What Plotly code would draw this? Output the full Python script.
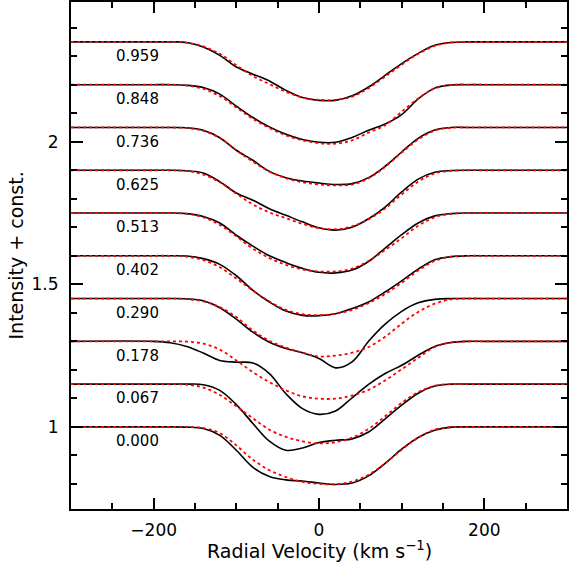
import plotly.graph_objects as go

# Radial velocity grid (km/s)
velocity = [-300, -200, -180, -160, -140, -120, -100, -80, -60, -40, -20, 0,
            20, 40, 60, 80, 100, 120, 140, 160, 180, 200, 300]

phases = ["0.000", "0.067", "0.178", "0.290", "0.402", "0.513", "0.625", "0.736", "0.848", "0.959"]
offset_step = 0.15

# Observed (black) normalized profiles, grid -180..180 step 20 (continuum 1 outside)
obs_0000 = [1.0, 0.999, 0.994, 0.970, 0.918, 0.858, 0.826, 0.814, 0.810, 0.803, 0.798, 0.803, 0.828, 0.872, 0.922, 0.963, 0.988, 0.999, 1.0]
obs_0067 = [1.0, 1.0, 0.998, 0.978, 0.928, 0.862, 0.800, 0.768, 0.776, 0.795, 0.803, 0.808, 0.832, 0.878, 0.926, 0.968, 0.993, 1.0, 1.0]
obs_0178 = [0.995, 0.982, 0.959, 0.933, 0.927, 0.924, 0.887, 0.816, 0.764, 0.744, 0.756, 0.802, 0.849, 0.887, 0.916, 0.951, 0.982, 0.996, 1.0]
obs_0290 = [1.0, 0.999, 0.992, 0.968, 0.928, 0.882, 0.847, 0.825, 0.810, 0.790, 0.757, 0.778, 0.850, 0.910, 0.955, 0.985, 0.997, 1.0, 1.0]
obs_0402 = [1.0, 0.999, 0.990, 0.970, 0.930, 0.879, 0.838, 0.806, 0.791, 0.790, 0.797, 0.815, 0.838, 0.873, 0.912, 0.953, 0.986, 0.997, 1.0]
obs_0513 = [1.0, 0.998, 0.988, 0.965, 0.922, 0.884, 0.850, 0.826, 0.806, 0.792, 0.790, 0.800, 0.830, 0.877, 0.924, 0.965, 0.990, 0.998, 1.0]
obs_0625 = [1.0, 0.998, 0.990, 0.960, 0.920, 0.895, 0.865, 0.842, 0.819, 0.798, 0.790, 0.800, 0.830, 0.871, 0.924, 0.969, 0.993, 0.999, 1.0]
obs_0736 = [1.0, 0.999, 0.990, 0.964, 0.920, 0.885, 0.846, 0.824, 0.812, 0.805, 0.800, 0.803, 0.824, 0.864, 0.914, 0.962, 0.991, 1.0, 1.0]
obs_0848 = [1.0, 0.998, 0.990, 0.967, 0.925, 0.885, 0.852, 0.826, 0.808, 0.798, 0.798, 0.815, 0.840, 0.862, 0.895, 0.950, 0.988, 0.999, 1.0]
obs_0959 = [1.0, 0.998, 0.982, 0.953, 0.912, 0.887, 0.863, 0.830, 0.805, 0.795, 0.795, 0.811, 0.842, 0.883, 0.924, 0.960, 0.988, 0.998, 1.0]

# Model (red dotted) profiles, same grid
mod_0000 = [1.0, 1.0, 0.996, 0.978, 0.935, 0.885, 0.848, 0.824, 0.807, 0.800, 0.799, 0.808, 0.832, 0.872, 0.920, 0.962, 0.990, 0.999, 1.0]
mod_0067 = [1.0, 0.998, 0.988, 0.962, 0.922, 0.880, 0.840, 0.815, 0.799, 0.792, 0.796, 0.812, 0.843, 0.887, 0.934, 0.972, 0.994, 1.0, 1.0]
mod_0178 = [1.0, 0.999, 0.992, 0.971, 0.933, 0.892, 0.857, 0.828, 0.807, 0.799, 0.799, 0.810, 0.830, 0.863, 0.902, 0.942, 0.980, 0.996, 1.0]
mod_0290 = [1.0, 0.998, 0.990, 0.970, 0.935, 0.888, 0.852, 0.828, 0.810, 0.797, 0.800, 0.810, 0.830, 0.866, 0.912, 0.953, 0.982, 0.997, 1.0]
mod_0402 = [1.0, 0.997, 0.985, 0.960, 0.920, 0.878, 0.840, 0.810, 0.795, 0.792, 0.797, 0.810, 0.834, 0.866, 0.905, 0.948, 0.982, 0.997, 1.0]
mod_0513 = [1.0, 0.997, 0.985, 0.958, 0.918, 0.875, 0.842, 0.818, 0.802, 0.795, 0.795, 0.805, 0.832, 0.870, 0.912, 0.955, 0.985, 0.997, 1.0]
mod_0625 = [1.0, 0.997, 0.985, 0.958, 0.918, 0.880, 0.852, 0.832, 0.812, 0.797, 0.793, 0.803, 0.828, 0.866, 0.915, 0.960, 0.989, 0.998, 1.0]
mod_0736 = [1.0, 0.998, 0.988, 0.963, 0.920, 0.880, 0.845, 0.822, 0.808, 0.800, 0.797, 0.800, 0.822, 0.862, 0.912, 0.958, 0.989, 0.999, 1.0]
mod_0848 = [1.0, 0.997, 0.985, 0.960, 0.920, 0.880, 0.848, 0.822, 0.805, 0.795, 0.793, 0.805, 0.832, 0.858, 0.905, 0.952, 0.987, 0.999, 1.0]
mod_0959 = [1.0, 0.997, 0.984, 0.958, 0.918, 0.880, 0.852, 0.825, 0.805, 0.797, 0.797, 0.808, 0.838, 0.878, 0.920, 0.958, 0.986, 0.998, 1.0]

observed = [obs_0000, obs_0067, obs_0178, obs_0290, obs_0402, obs_0513, obs_0625, obs_0736, obs_0848, obs_0959]
model = [mod_0000, mod_0067, mod_0178, mod_0290, mod_0402, mod_0513, mod_0625, mod_0736, mod_0848, mod_0959]

label_x = -219
FONT = "DejaVu Sans"

fig = go.Figure()
for k, (ph, ob, md) in enumerate(zip(phases, observed, model)):
    off = k * offset_step
    full_ob = [1.0, 1.0] + ob + [1.0, 1.0]
    full_md = [1.0, 1.0] + md + [1.0, 1.0]
    fig.add_trace(go.Scatter(x=velocity, y=[v + off for v in full_ob], mode="lines",
                             line=dict(color="black", width=1.6, shape="spline", smoothing=1.0),
                             showlegend=False, hoverinfo="skip"))
    fig.add_trace(go.Scatter(x=velocity, y=[v + off for v in full_md], mode="lines",
                             line=dict(color="#ff0000", width=1.8, dash="dot", shape="spline", smoothing=1.0),
                             showlegend=False, hoverinfo="skip"))
    fig.add_annotation(x=label_x, y=1.0 + off - 0.05, text=ph, showarrow=False,
                       xanchor="center", yanchor="middle",
                       font=dict(family=FONT, size=15, color="black"))

fig.add_annotation(xref="paper", yref="paper", x=0.5, y=0, yshift=-41,
                   text="Radial Velocity (km s<sup>\u22121</sup>)", showarrow=False,
                   xanchor="center", yanchor="middle", font=dict(family=FONT, size=19, color="black"))
fig.add_annotation(xref="paper", yref="paper", x=0, y=0.5, xshift=-56,
                   text="Intensity + const.", showarrow=False, textangle=-90,
                   xanchor="center", yanchor="middle", font=dict(family=FONT, size=19, color="black"))

fig.update_xaxes(range=[-300, 300], showline=True, linecolor="black", linewidth=2, mirror="allticks",
                 ticks="inside", ticklen=11, tickwidth=1.5, tickcolor="black",
                 tick0=0, dtick=200, showgrid=False, zeroline=False,
                 ticklabelstandoff=5,
                 minor=dict(ticks="inside", dtick=50, ticklen=6, tickwidth=1.5, tickcolor="black", showgrid=False),
                 tickfont=dict(family=FONT, size=17, color="black"))
fig.update_yaxes(range=[0.712, 2.49], showline=True, linecolor="black", linewidth=2, mirror="allticks",
                 ticks="inside", ticklen=12, tickwidth=1.5, tickcolor="black",
                 tick0=0, dtick=0.5, showgrid=False, zeroline=False,
                 ticklabelstandoff=7,
                 minor=dict(ticks="inside", dtick=0.1, ticklen=6, tickwidth=1.5, tickcolor="black", showgrid=False),
                 tickfont=dict(family=FONT, size=17, color="black"))

fig.update_layout(width=569, height=564, margin=dict(l=71, r=0, t=2, b=55),
                  plot_bgcolor="white", paper_bgcolor="white")

fig.write_html("out.html")
